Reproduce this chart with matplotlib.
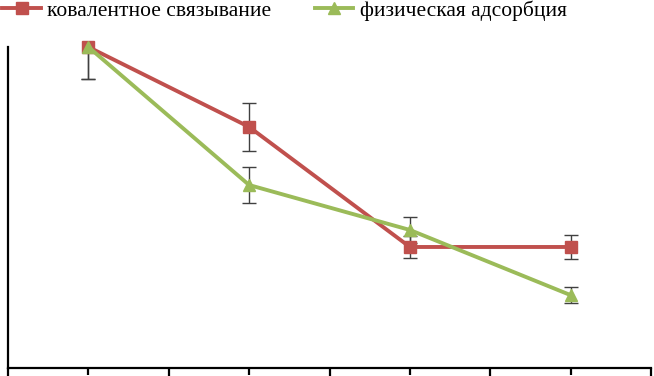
import matplotlib.pyplot as plt
from matplotlib.ticker import FixedLocator

plt.rcParams['font.family'] = ['Liberation Serif', 'DejaVu Serif']

# данные
points = [1, 2, 3, 4]
kovalent = [100.0, 75.1, 37.7, 37.7]
kovalent_err = [10.0, 7.5, 3.4, 3.7]
adsorb = [100.0, 57.0, 43.0, 22.7]
adsorb_err = [10.0, 5.6, 4.0, 2.5]
labels = ['ковалентное связывание', 'физическая адсорбция']

RED = '#C0504D'
GREEN = '#9BBB59'

fig = plt.figure(figsize=(6.54, 3.76), dpi=100)
ax = fig.add_axes([8 / 654, 8 / 376, 643 / 654, 321 / 376])

# планки погрешностей
ax.errorbar(points, kovalent, yerr=kovalent_err, fmt='none', ecolor='#404040',
            elinewidth=1.0, capsize=5, capthick=1.0, zorder=2)
ax.errorbar(points, adsorb, yerr=adsorb_err, fmt='none', ecolor='#404040',
            elinewidth=1.0, capsize=5, capthick=1.0, zorder=2)

l1, = ax.plot(points, kovalent, color=RED, lw=2.8, marker='s', ms=8,
              mec=RED, mfc=RED, zorder=3, clip_on=False)
l2, = ax.plot(points, adsorb, color=GREEN, lw=2.8, marker='^', ms=9,
              mec=GREEN, mfc=GREEN, zorder=4, clip_on=False)

ax.set_xlim(0.5, 4.5)
ax.set_ylim(0, 100)

for s in ['top', 'right']:
    ax.spines[s].set_visible(False)
for s in ['left', 'bottom']:
    ax.spines[s].set_linewidth(1.6)
    ax.spines[s].set_color('black')

ax.xaxis.set_major_locator(FixedLocator([0.5, 1.5, 2.5, 3.5, 4.5]))
ax.xaxis.set_minor_locator(FixedLocator(points))
ax.tick_params(axis='x', which='major', direction='out', length=8, width=1.6,
               labelbottom=False)
ax.tick_params(axis='x', which='minor', direction='out', length=5, width=1.6,
               labelbottom=False)
ax.set_yticks([])

fig.legend([l1, l2], labels, loc='center left', bbox_to_anchor=(0.0, 0.972),
           ncol=2, frameon=False, fontsize=15.5, handlelength=1.8,
           handletextpad=0.3, columnspacing=2.0, borderaxespad=0, borderpad=0.1)

fig.savefig('out.png', dpi=100)
